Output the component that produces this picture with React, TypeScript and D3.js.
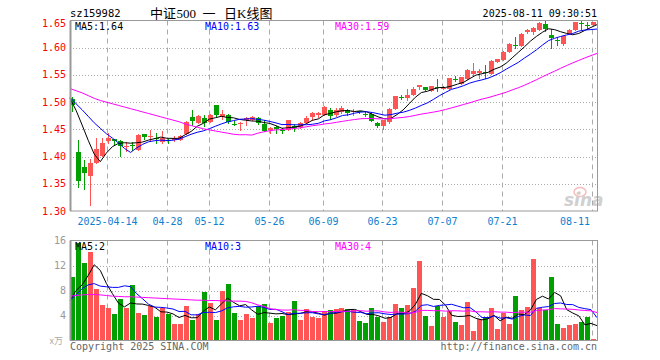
import React from "react";
import * as d3 from "d3";

// ---- data ----
const dates = [
  "04-03","04-07","04-08","04-09","04-10","04-11","04-14","04-15","04-16","04-17","04-18",
  "04-21","04-22","04-23","04-24","04-25","04-28","04-29","04-30",
  "05-06","05-07","05-08","05-09","05-12","05-13","05-14","05-15","05-16",
  "05-19","05-20","05-21","05-22","05-23","05-26","05-27","05-28","05-29","05-30",
  "06-03","06-04","06-05","06-06","06-09","06-10","06-11","06-12","06-13",
  "06-16","06-17","06-18","06-19","06-20","06-23","06-24","06-25","06-26","06-27","06-30",
  "07-01","07-02","07-03","07-04","07-07","07-08","07-09","07-10","07-11",
  "07-14","07-15","07-16","07-17","07-18","07-21","07-22","07-23","07-24","07-25",
  "07-28","07-29","07-30","07-31","08-01","08-04","08-05","08-06","08-07","08-08","08-11",
];
const opens = [
  1.505,1.409,1.380,1.364,1.389,1.401,1.428,1.432,1.428,1.417,1.422,1.412,1.441,1.436,1.435,1.427,1.430,1.430,1.431,
  1.442,1.473,1.462,1.471,1.464,1.494,1.472,1.477,1.460,1.461,1.467,1.468,1.471,1.459,1.448,1.455,1.449,1.449,1.456,
  1.454,1.461,1.472,1.476,1.476,1.485,1.477,1.481,1.486,1.481,1.483,1.479,1.479,1.462,1.456,1.463,1.487,1.509,1.507,1.513,
  1.528,1.527,1.520,1.527,1.524,1.525,1.542,1.534,1.543,1.552,1.553,1.555,1.552,1.574,1.577,1.592,1.605,1.604,1.628,
  1.628,1.632,1.644,1.623,1.614,1.606,1.626,1.632,1.646,1.641,1.641,
];
const closes = [
  1.495,1.356,1.370,1.389,1.413,1.425,1.435,1.429,1.419,1.419,1.421,1.439,1.436,1.437,1.432,1.435,1.428,1.435,1.438,
  1.464,1.466,1.475,1.462,1.477,1.477,1.479,1.464,1.459,1.462,1.470,1.472,1.462,1.447,1.453,1.450,1.448,1.467,1.453,
  1.462,1.471,1.480,1.480,1.491,1.475,1.486,1.490,1.480,1.483,1.481,1.477,1.465,1.456,1.467,1.487,1.511,1.508,1.513,1.525,
  1.531,1.523,1.529,1.526,1.526,1.544,1.541,1.546,1.559,1.558,1.557,1.553,1.575,1.579,1.593,1.607,1.603,1.625,1.632,
  1.637,1.645,1.635,1.617,1.613,1.621,1.633,1.647,1.645,1.640,1.647,
];
const highs = [
  1.510,1.430,1.394,1.395,1.434,1.435,1.444,1.433,1.431,1.427,1.427,1.442,1.442,1.449,1.443,1.447,1.432,1.438,1.440,
  1.465,1.486,1.477,1.476,1.479,1.495,1.485,1.478,1.465,1.463,1.472,1.474,1.473,1.467,1.455,1.457,1.453,1.468,1.459,
  1.464,1.475,1.482,1.482,1.493,1.489,1.490,1.492,1.488,1.488,1.484,1.481,1.481,1.464,1.468,1.489,1.512,1.513,1.524,1.527,
  1.532,1.528,1.530,1.543,1.529,1.545,1.548,1.547,1.560,1.571,1.560,1.569,1.577,1.580,1.594,1.608,1.620,1.627,1.634,
  1.638,1.647,1.650,1.635,1.620,1.622,1.635,1.648,1.650,1.648,1.648,
];
const lows = [
  1.482,1.343,1.338,1.309,1.387,1.400,1.424,1.419,1.399,1.409,1.410,1.410,1.430,1.427,1.423,1.424,1.424,1.427,1.429,
  1.440,1.456,1.459,1.455,1.462,1.472,1.467,1.459,1.457,1.447,1.456,1.465,1.458,1.445,1.442,1.442,1.441,1.447,1.446,
  1.451,1.459,1.466,1.471,1.474,1.467,1.472,1.479,1.474,1.474,1.478,1.472,1.463,1.453,1.448,1.460,1.486,1.504,1.503,1.511,
  1.522,1.521,1.519,1.519,1.522,1.523,1.537,1.532,1.540,1.546,1.543,1.542,1.550,1.571,1.576,1.591,1.598,1.602,1.626,
  1.623,1.630,1.628,1.598,1.603,1.603,1.625,1.630,1.632,1.632,1.640,
];
const volumes = [
  10.2,15.6,12.4,14.2,8.2,5.7,5.2,4.2,6.6,5.2,8.85,4.4,4.05,5.5,3.8,5.2,4.2,2.6,2.6,
  5.5,3.25,4.3,7.8,5.97,3.25,7.9,9.0,4.37,3.25,4.2,3.6,5.5,5.8,2.8,3.6,3.9,4.6,6.3,
  3.25,5.0,3.7,3.6,4.7,4.85,5.0,5.17,5.0,4.85,3.1,2.77,5.17,3.78,2.93,3.78,5.8,5.17,5.65,8.37,
  12.7,3.95,2.3,5.5,3.78,4.7,2.93,2.45,6.18,1.49,3.46,3.78,5.17,1.81,4.42,2.6,7.09,4.85,5.33,
  13.0,5.17,4.85,10.1,2.6,1.97,2.45,2.6,2.93,3.73,0.2,
];
// moving-average values at the start of the window (history before the first visible day)
const priceMa5Start = [1.507, 1.485, 1.458, 1.430];
const priceMa10Start = [1.509, 1.497, 1.486, 1.474, 1.462, 1.452, 1.442, 1.434, 1.425];
const priceMa30Start = [
  1.525,1.521,1.517,1.512,1.507,1.503,1.500,1.497,1.494,1.491,1.488,1.485,1.482,1.479,1.476,
  1.473,1.470,1.467,1.464,1.460,1.457,1.454,1.451,1.449,1.447,1.445,1.443,1.441,1.440,
];
const volMa5Start = [6.4, 8.0, 8.9, 10.4];
const volMa10Start = [6.4, 7.3, 8.3, 8.9, 9.1, 8.7, 8.6, 8.5, 8.5];
const volMa30Start = [
  7.1,7.2,7.3,7.35,7.35,7.3,7.2,7.1,7.05,7.0,7.0,6.95,6.9,6.85,6.8,6.75,6.7,6.65,6.6,
  6.55,6.5,6.45,6.45,6.4,6.4,6.35,6.35,6.3,6.3,
];
const priceTicks = [1.30, 1.35, 1.40, 1.45, 1.50, 1.55, 1.60, 1.65];
const volTicks = [4, 8, 12, 16];
const tickDates = ["04-14","04-28","05-12","05-26","06-09","06-23","07-07","07-21","08-11"];
const tickLabels = ["2025-04-14","04-28","05-12","05-26","06-09","06-23","07-07","07-21","08-11"];
const titleParts = ["中证", "500", "一", "日K线图"];
const priceMaLabels = ["MA5:1.64", "MA10:1.63", "MA30:1.59"];
const volMaLabels = ["MA5:2", "MA10:3", "MA30:4"];
const maColors = ["#000000", "#0000ff", "#ff00ff"];

// ---- layout ----
const W = 660, H = 360;
const L = 70, R = 597;
const PT = 20.5, PB = 211;
const VT = 240.5, VB = 340.5;
const RED = "#ff5555", GREEN = "#00a000";
const MONO = "'DejaVu Sans Mono', 'Liberation Mono', monospace";
const TITLE_X = [150, 176.5, 202.5, 224];

function movingAvg(vals: number[], n: number, start: number[]) {
  return vals.map((_, i) => (i < n - 1 ? start[i] : (d3.mean(vals.slice(i - n + 1, i + 1)) as number)));
}

export default function App() {
  const xb = d3.scaleBand<string>().domain(dates).range([L, R]).paddingInner(0).paddingOuter(0);
  const xl = d3.scaleLinear().domain([0, dates.length - 1]).range([L, R]);
  const yP = d3.scaleLinear().domain([1.30, 1.65]).range([PB, PT]);
  const yV = d3.scaleLinear().domain([0, 16]).range([VB, VT]);

  const pMA = [movingAvg(closes, 5, priceMa5Start), movingAvg(closes, 10, priceMa10Start), movingAvg(closes, 30, priceMa30Start)];
  const vMA = [movingAvg(volumes, 5, volMa5Start), movingAvg(volumes, 10, volMa10Start), movingAvg(volumes, 30, volMa30Start)];
  const lineP = d3.line<number>().x((_, i) => xl(i)).y((v) => yP(v));
  const lineV = d3.line<number>().x((_, i) => xl(i)).y((v) => yV(v));

  const gx = (d: string) => Math.round((xb(d) as number) + 1) + 0.5;

  return (
    <svg width={W} height={H} style={{ position: "fixed", left: 0, top: 0, background: "#fff" }}>
      {/* header */}
      <text x={70} y={17} fontFamily={MONO} fontSize={10.5} fill="#000">sz159982</text>
      <text y={17.5} fontFamily="'Liberation Serif', 'Noto Sans CJK SC', serif" fontSize={13} fill="#000">
        {titleParts.map((p, k) => (
          <tspan key={"tp" + k} x={TITLE_X[k]}>{p}</tspan>
        ))}
      </text>
      <text x={597} y={17} textAnchor="end" fontFamily={MONO} fontSize={10} fill="#000">2025-08-11 09:30:51</text>

      {/* horizontal grid */}
      {priceTicks.slice(1, -1).map((t) => (
        <line key={"hp" + t} x1={L} x2={R} y1={Math.round(yP(t)) + 0.5} y2={Math.round(yP(t)) + 0.5}
          stroke="#aaa" strokeDasharray="1,2" />
      ))}
      {volTicks.slice(0, -1).map((t) => (
        <line key={"hv" + t} x1={L} x2={R} y1={Math.round(yV(t)) + 0.5} y2={Math.round(yV(t)) + 0.5}
          stroke="#aaa" strokeDasharray="1,2" />
      ))}
      {/* vertical dashed grid */}
      {tickDates.map((d) => (
        <g key={"vg" + d}>
          <line x1={gx(d)} x2={gx(d)} y1={PT} y2={PB} stroke="#aaa" strokeDasharray="5,4" />
          <line x1={gx(d)} x2={gx(d)} y1={VT} y2={VB} stroke="#aaa" strokeDasharray="5,4" />
        </g>
      ))}

      {/* sina watermark */}
      <g opacity={0.55}>
        <ellipse cx={580} cy={192} rx={6} ry={4.5} fill="none" stroke="#e88" strokeWidth={1.5} />
        <circle cx={579} cy={193} r={1.8} fill="#e99" />
        <text x={564} y={206} fontFamily="'DejaVu Sans', sans-serif" fontStyle="italic" fontWeight="bold" fontSize={17} fill="#aaa">sina</text>
      </g>

      {/* candles */}
      {dates.map((d, i) => {
        const x = Math.round(xb(d) as number);
        const up = closes[i] >= opens[i];
        const c = up ? RED : GREEN;
        const top = Math.round(yP(Math.max(opens[i], closes[i])));
        const bot = Math.round(yP(Math.min(opens[i], closes[i])));
        const hy = Math.round(yP(highs[i]));
        const ly = Math.round(yP(lows[i]));
        return (
          <g key={"c" + d}>
            <rect x={x + 2} y={hy} width={1} height={Math.max(1, ly - hy)} fill={c} />
            <rect x={x} y={top} width={5} height={Math.max(1, bot - top)} fill={c} />
          </g>
        );
      })}

      {/* price MA lines */}
      {pMA.map((m, k) => (
        <path key={"pm" + k} d={lineP(m) as string} fill="none" stroke={maColors[k]} strokeWidth={1} />
      ))}

      {/* volume bars */}
      {dates.map((d, i) => {
        const x = Math.round(xb(d) as number);
        const up = closes[i] >= opens[i];
        const t = Math.round(yV(volumes[i]));
        return <rect key={"v" + d} x={x} y={t} width={5} height={Math.max(1, Math.round(VB) - t)} fill={up ? RED : GREEN} />;
      })}
      {vMA.map((m, k) => (
        <path key={"vm" + k} d={lineV(m) as string} fill="none" stroke={maColors[k]} strokeWidth={1} />
      ))}

      {/* frames */}
      <rect x={L + 0.5} y={PT} width={R - L} height={PB - PT} fill="none" stroke="#999" />
      <rect x={L + 0.5} y={VT} width={R - L} height={VB - VT} fill="none" stroke="#999" />
      <line x1={L + 0.5} x2={L + 0.5} y1={PT} y2={PB} stroke="#999" strokeWidth={2} />
      <line x1={L + 0.5} x2={L + 0.5} y1={VT} y2={VB} stroke="#999" strokeWidth={2} />

      {/* MA legends */}
      {priceMaLabels.map((s, k) => (
        <text key={"pl" + k} x={75 + 130 * k} y={26} dy="0.35em" fontFamily={MONO} fontSize={10} fill={maColors[k]}>{s}</text>
      ))}
      {volMaLabels.map((s, k) => (
        <text key={"vl" + k} x={75 + 130 * k} y={246.5} dy="0.35em" fontFamily={MONO} fontSize={10} fill={maColors[k]}>{s}</text>
      ))}

      {/* price axis labels */}
      {priceTicks.map((t) => (
        <text key={"pt" + t} x={66} y={Math.max(23, yP(t))} dy="0.35em" textAnchor="end" fontFamily={MONO} fontSize={10} fill="#ff0000">
          {t.toFixed(2)}
        </text>
      ))}
      {/* volume axis labels */}
      {volTicks.map((t) => (
        <text key={"vt" + t} x={66} y={yV(t)} dy="0.35em" textAnchor="end" fontFamily={MONO} fontSize={10} fill="#999">
          {t}
        </text>
      ))}
      <text x={63} y={341} dy="0.35em" textAnchor="end" fontFamily="'Noto Sans CJK SC', sans-serif" fontSize={9} fill="#aaa">x万</text>

      {/* date labels */}
      {tickDates.map((d, k) => {
        const w = tickLabels[k].length * 6.02;
        const cx = Math.min(gx(d), R - 7 - w / 2);
        return (
          <text key={"tl" + d} x={cx} y={221} dy="0.35em" textAnchor="middle" fontFamily={MONO} fontSize={10} fill="#1080d0">
            {tickLabels[k]}
          </text>
        );
      })}

      {/* footer */}
      <text x={70} y={346} dy="0.35em" fontFamily={MONO} fontSize={10} fill="#666">Copyright 2025 SINA.COM</text>
      <text x={597} y={346} dy="0.35em" textAnchor="end" fontFamily={MONO} fontSize={10} fill="#666">http://finance.sina.com.cn</text>
    </svg>
  );
}
